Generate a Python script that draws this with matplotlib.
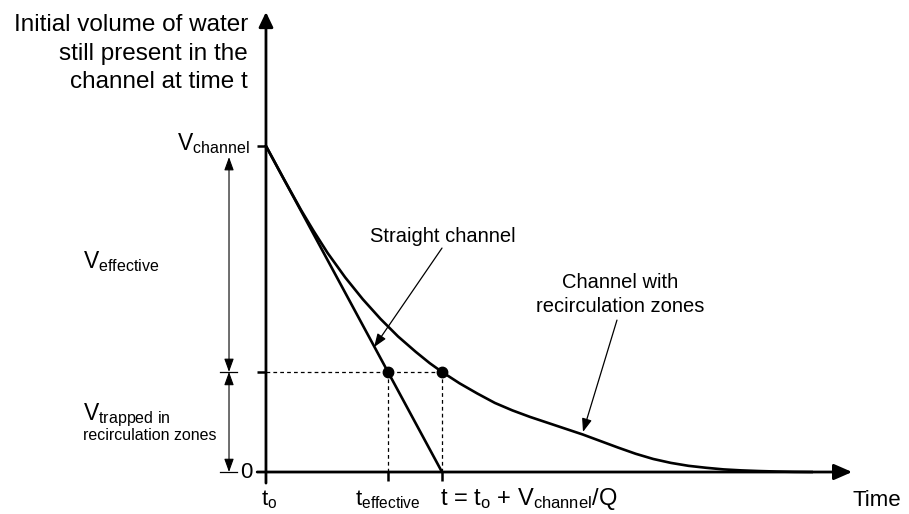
import numpy as np
import matplotlib
matplotlib.use('Agg')
import matplotlib.pyplot as plt

plt.rcParams['font.family'] = ['Liberation Sans', 'DejaVu Sans']
plt.rcParams['mathtext.fontset'] = 'custom'
plt.rcParams['mathtext.rm'] = 'Liberation Sans'
plt.rcParams['mathtext.it'] = 'Liberation Sans:italic'
plt.rcParams['mathtext.bf'] = 'Liberation Sans:bold'

# volumes are in units of V_channel, time in units of V_channel/Q after t0
v_channel = 1.0
v_trapped = 0.307
t_0 = 0.0
t_flush = 1.0          # t = t0 + V_channel/Q
t_effective = 0.693    # V_effective/Q

# ideal plug flow through a straight channel
straight_t = [t_0, t_flush]
straight_v = [v_channel, 0.0]

# channel with recirculation zones (sketched washout curve)
recirc_t = [0.0, 0.1, 0.2, 0.27, 0.35, 0.45, 0.55, 0.65, 0.75, 0.85, 0.93,
            1.0, 1.1, 1.2, 1.3, 1.4, 1.5, 1.6, 1.7, 1.8, 1.9, 2.0, 2.1,
            2.2, 2.3, 2.4, 2.5, 2.6, 2.7, 2.8, 2.9, 3.0, 3.1]
recirc_v = [1.0, 0.9, 0.803, 0.74, 0.672, 0.597, 0.53, 0.47, 0.416, 0.369, 0.334,
            0.307, 0.272, 0.241, 0.212, 0.189, 0.169, 0.151, 0.133, 0.115, 0.095, 0.075, 0.056,
            0.04, 0.028, 0.019, 0.013, 0.008, 0.005, 0.003, 0.0015, 0.0005, 0.0]

x_ticks = [t_0, t_effective, t_flush]
x_labels = [r'$\mathrm{t}_\mathrm{o}$', r'$\mathrm{t}_\mathrm{effective}$',
            r't = $\mathrm{t}_\mathrm{o}$ + $\mathrm{V}_\mathrm{channel}$/Q']

fig = plt.figure(figsize=(9.09, 5.14), dpi=100)
ax = fig.add_axes([0, 0, 1, 1])
ax.set_xlim(-1.511, 3.653)
ax.set_ylim(-0.1288, 1.4479)
ax.axis('off')

k = 'black'


def arrow(tail, tip, style, lw, hl, hw):
    ax.annotate('', xy=tip, xytext=tail,
                arrowprops=dict(arrowstyle=f'{style},head_length={hl},head_width={hw}',
                                lw=lw, color=k, shrinkA=0, shrinkB=0,
                                mutation_scale=1))


# axes with arrow heads
arrow((t_0, -0.034), (t_0, 1.411), '-|>', 2.0, 9, 4.3)
arrow((-0.05, 0.0), (3.33, 0.0), '-|>', 2.0, 11, 4.8)

# tick marks
for v in [v_channel, v_trapped]:
    ax.plot([-0.051, t_0], [v, v], color=k, lw=1.8, solid_capstyle='butt')
for t in x_ticks[1:]:
    ax.plot([t, t], [0, -0.028], color=k, lw=1.8, solid_capstyle='butt')

# dashed guide lines
dash = dict(color=k, lw=0.9, dashes=(3, 2.5))
ax.plot([t_0, t_flush], [v_trapped, v_trapped], **dash)
ax.plot([t_effective, t_effective], [v_trapped, 0], **dash)
ax.plot([t_flush, t_flush], [v_trapped, 0], **dash)

# curves
ax.plot(straight_t, straight_v, color=k, lw=1.9, solid_capstyle='round')
ax.plot(recirc_t, recirc_v, color=k, lw=1.9, solid_joinstyle='round')
ax.plot([t_effective, t_flush], [v_trapped, v_trapped], 'o', color=k, ms=7.5)

# volume dimension arrows
xd = -0.21
arrow((xd, v_trapped), (xd, 0.966), '<|-|>', 0.8, 8, 2.9)
arrow((xd, 0.0), (xd, v_trapped), '<|-|>', 0.8, 8, 2.9)
for v in [v_trapped, 0.0]:
    ax.plot([-0.261, -0.165], [v, v], color=k, lw=0.9)

# labels
title_lines = ['Initial volume of water', 'still present in the', 'channel at time t']
for line, y in zip(title_lines, [1.353, 1.265, 1.178]):
    ax.text(-0.102, y, line, ha='right', va='baseline', fontsize=17.5)

ax.text(-0.091, 0.988, r'$\mathrm{V}_\mathrm{channel}$', ha='right', va='baseline', fontsize=16.5)
ax.text(-1.04, 0.626, r'$\mathrm{V}_\mathrm{effective}$', ha='left', va='baseline', fontsize=16.5)
ax.text(-1.04, 0.160, r'$\mathrm{V}_\mathrm{trapped\ in}$', ha='left', va='baseline', fontsize=16.5)
ax.text(-1.04, 0.098, 'recirculation zones', ha='left', va='baseline', fontsize=11.5)
ax.text(-0.078, 0.0, '0', ha='right', va='center', fontsize=16)

ax.text(-0.03, -0.101, x_labels[0], ha='left', va='baseline', fontsize=16)
ax.text(t_effective, -0.101, x_labels[1], ha='center', va='baseline', fontsize=16)
ax.text(t_flush - 0.01, -0.101, x_labels[2], ha='left', va='baseline', fontsize=17)
ax.text(3.33, -0.104, 'Time', ha='left', va='baseline', fontsize=16)

ax.text(1.006, 0.706, 'Straight channel', ha='center', va='baseline', fontsize=14.5)
arrow((1.0, 0.687), (0.614, 0.383), '-|>', 0.9, 8, 3)

ax.text(2.011, 0.564, 'Channel with', ha='center', va='baseline', fontsize=14.5)
ax.text(2.011, 0.491, 'recirculation zones', ha='center', va='baseline', fontsize=14.5)
arrow((1.994, 0.466), (1.801, 0.123), '-|>', 0.9, 8, 3)

fig.savefig('out.png', dpi=100)
